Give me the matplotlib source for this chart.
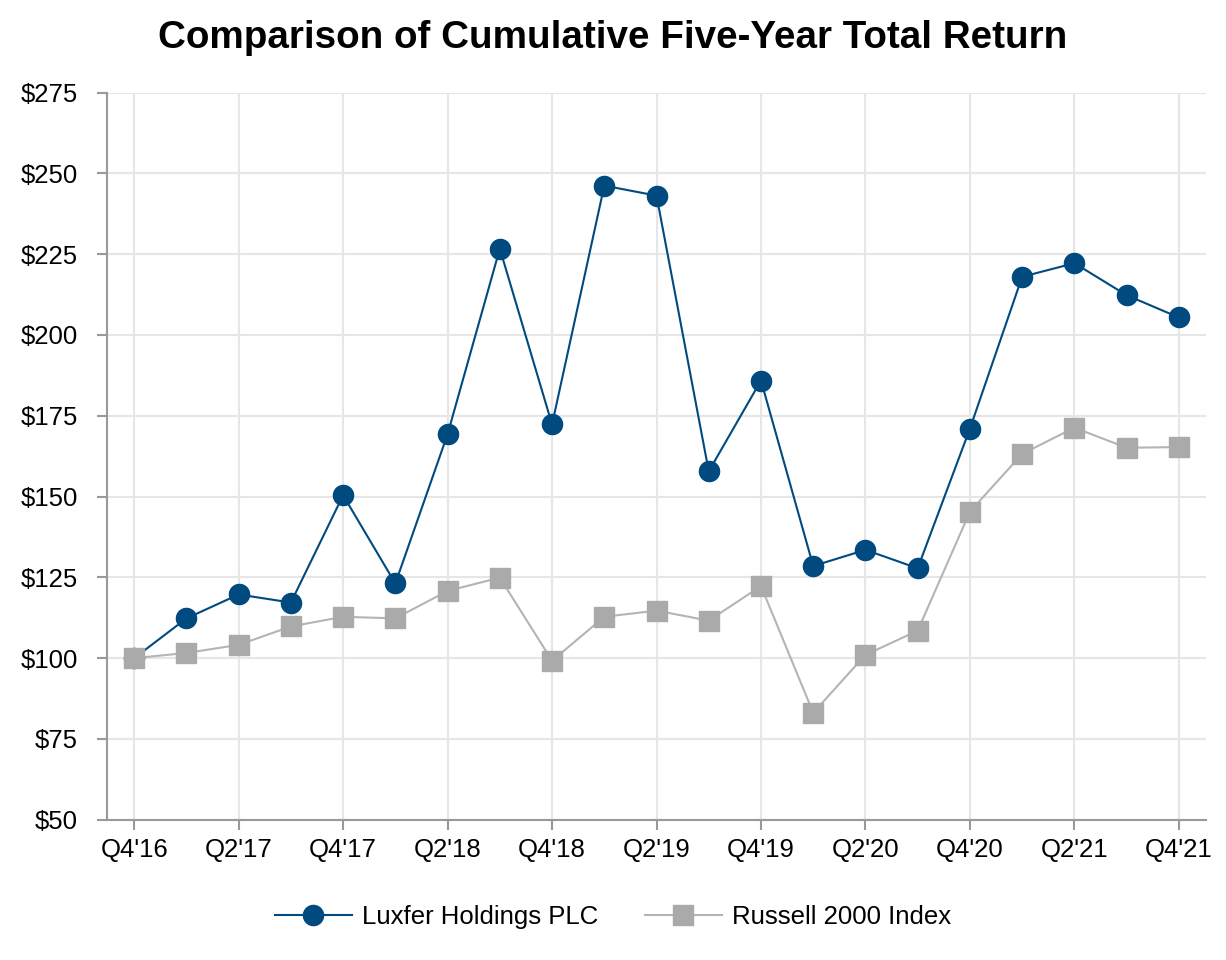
import numpy as np
import matplotlib
matplotlib.use("Agg")
import matplotlib.pyplot as plt

plt.rcParams['font.family'] = ['Liberation Sans', 'DejaVu Sans']

quarters = ["Q4'16", "Q1'17", "Q2'17", "Q3'17", "Q4'17", "Q1'18", "Q2'18",
            "Q3'18", "Q4'18", "Q1'19", "Q2'19", "Q3'19", "Q4'19", "Q1'20",
            "Q2'20", "Q3'20", "Q4'20", "Q1'21", "Q2'21", "Q3'21", "Q4'21"]
luxfer = [100, 112.3, 119.7, 117.2, 150.4, 123.1, 169.3, 226.7, 172.3, 246.2,
          243.1, 157.8, 185.9, 128.5, 133.5, 127.8, 171.0, 218.0, 222.2, 212.3, 205.4]
russell = [100, 101.6, 104.1, 109.8, 112.8, 112.3, 120.8, 124.9, 99.2, 112.8,
           114.7, 111.6, 122.3, 83.1, 101.0, 108.5, 145.3, 163.2, 171.3, 165.1, 165.3]
y_ticks = [50, 75, 100, 125, 150, 175, 200, 225, 250, 275]

blue = "#004a7f"
gray = "#aaaaaa"
axis_gray = "#999999"

fig = plt.figure(figsize=(12.26, 9.6), dpi=100)
ax = fig.add_axes([0.0873, 0.1461, 0.8964, 0.7575])

x = np.arange(len(quarters))
ax.plot(x, luxfer, color=blue, linewidth=1.5, marker="o", markersize=14.5,
        label="Luxfer Holdings PLC", zorder=3)
ax.plot(x, russell, color="#b4b4b4", linewidth=1.5, marker="s", markersize=14.5,
        markerfacecolor=gray, markeredgecolor=gray, label="Russell 2000 Index", zorder=4)

ax.set_xlim(-0.52, len(quarters) - 1 + 0.52)
ax.set_ylim(50, 275)
ax.set_xticks(x[::2])
ax.set_xticklabels(quarters[::2])
ax.set_yticks(y_ticks)
ax.set_yticklabels(["$%d" % v for v in y_ticks])

ax.grid(True, color="#e6e6e6", linewidth=1.5, zorder=0)
ax.set_axisbelow(True)
for side in ["top", "right"]:
    ax.spines[side].set_visible(False)
for side in ["left", "bottom"]:
    ax.spines[side].set_color(axis_gray)
    ax.spines[side].set_linewidth(1.5)
ax.tick_params(axis="both", colors=axis_gray, width=1.5, length=7, labelcolor="black",
               labelsize=18.5)
ax.tick_params(axis="y", pad=14)
ax.tick_params(axis="x", pad=6)

fig.suptitle("Comparison of Cumulative Five-Year Total Return", fontsize=27.8,
             fontweight="bold", x=0.5, y=0.96, va="center")

fig.legend(loc="center", bbox_to_anchor=(0.5, 0.045), ncol=2, frameon=False,
           fontsize=18.5, handlelength=3.0, handletextpad=0.4, columnspacing=1.8)

fig.savefig("out.png", dpi=100)
